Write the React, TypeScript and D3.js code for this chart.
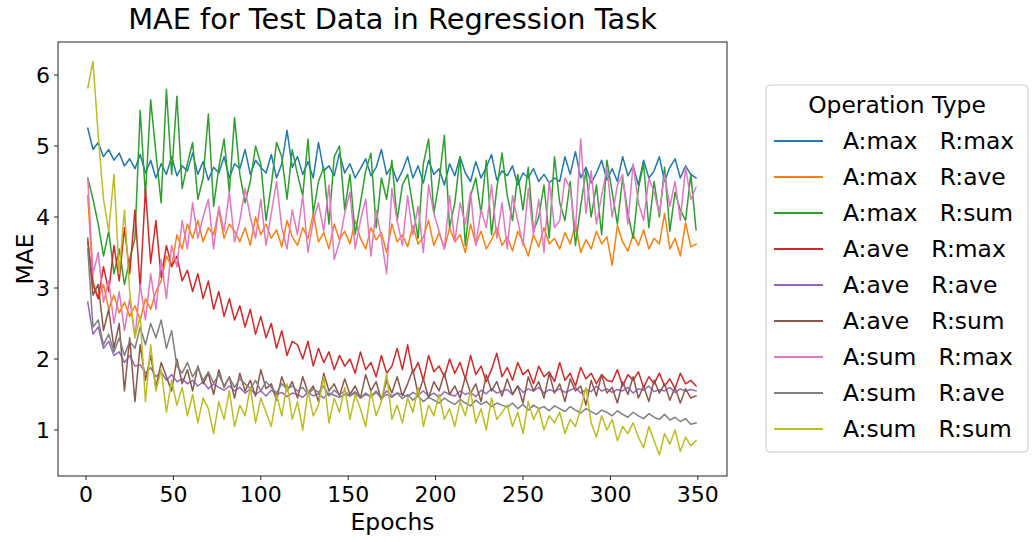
import * as d3 from "d3";

// sampled every 3 epochs: 1, 4, 7, ... 349
const EPOCHS = d3.range(1, 350, 3);

const X_TICKS = [0, 50, 100, 150, 200, 250, 300, 350];
const Y_TICKS = [1, 2, 3, 4, 5, 6];

const LABELS = [
  "A:max   R:max",
  "A:max   R:ave",
  "A:max   R:sum",
  "A:ave   R:max",
  "A:ave   R:ave",
  "A:ave   R:sum",
  "A:sum   R:max",
  "A:sum   R:ave",
  "A:sum   R:sum",
];

const MAX_MAX = [
  5.25, 4.95, 5.05, 4.85, 4.95, 4.8, 4.9, 4.72, 4.82, 4.68,
  4.88, 4.62, 4.8, 4.55, 4.75, 4.6, 4.85, 4.58, 4.72, 4.65,
  4.9, 4.6, 4.78, 4.52, 4.7, 4.62, 4.85, 4.55, 4.75, 4.68,
  4.95, 4.6, 4.8, 4.7, 4.62, 4.88, 4.55, 4.75, 5.22, 4.7,
  4.85, 4.6, 4.78, 4.55, 5.05, 4.65, 4.72, 4.58, 4.9, 4.62,
  4.75, 4.55, 4.68, 4.82, 4.58, 4.7, 4.95, 4.6, 4.72, 4.5,
  4.65, 4.85, 4.55, 4.72, 4.48, 4.8, 4.6, 4.68, 4.45, 4.75,
  4.58, 4.85, 4.62, 4.5, 4.78, 4.55, 4.7, 4.88, 4.52, 4.65,
  4.58, 4.72, 4.45, 4.62, 4.55, 4.68, 4.5, 4.6, 4.48, 4.55,
  4.5, 4.85, 4.6, 4.92, 4.55, 4.7, 4.48, 4.62, 4.8, 4.52,
  4.68, 4.5, 4.85, 4.58, 4.72, 4.45, 4.8, 4.55, 4.65, 4.85,
  4.5, 4.7, 4.82, 4.55, 4.72, 4.6, 4.55,
];

const MAX_AVE = [
  4.3, 3.1, 2.85, 3.05, 2.7, 2.9, 2.65, 2.8, 2.6, 2.75,
  2.55, 2.85, 2.7, 2.95, 3.1, 3.45, 3.3, 3.75, 3.55, 3.9,
  3.7, 3.95, 3.65, 3.85, 3.75, 4.1, 3.7, 3.9, 3.8, 3.65,
  3.85, 3.6, 4.0, 3.75, 3.9, 3.7, 3.82, 3.58, 3.95, 3.72,
  3.6, 3.85, 3.7, 4.05, 3.65, 3.78, 3.55, 3.9, 3.68, 3.8,
  3.62, 3.95, 3.7, 3.55, 3.85, 3.68, 3.78, 3.5, 3.9, 3.65,
  3.75, 3.58, 3.88, 3.62, 3.72, 3.95, 3.6, 3.78, 3.55, 3.85,
  3.65, 3.75, 3.5, 3.9, 3.62, 3.8, 3.55, 3.68, 3.85, 3.6,
  3.72, 3.52, 3.8, 3.65, 3.45, 3.75, 3.58, 3.85, 3.62, 3.7,
  3.55, 3.78, 3.62, 3.9, 3.5, 3.68, 3.55, 3.8, 3.62, 3.72,
  3.32, 3.88, 3.65, 3.52, 3.75, 3.6, 3.82, 3.55, 3.7, 3.62,
  4.05, 3.55, 3.7, 3.45, 3.92, 3.58, 3.62,
];

const MAX_SUM = [
  4.55, 4.25, 3.9, 3.45, 3.8, 3.2, 3.55, 3.05, 3.4, 3.7,
  5.5, 4.3, 5.65, 4.9, 4.2, 5.8, 4.6, 5.7, 4.4, 4.75,
  5.05, 4.25, 4.55, 5.45, 4.15, 4.7, 5.1, 4.35, 5.4, 4.6,
  4.2, 4.5, 5.0, 4.75, 3.95, 4.45, 5.05, 4.85, 4.25, 4.95,
  4.6, 4.3, 5.1, 4.05, 4.5, 4.7, 3.9, 4.85, 5.0, 4.1,
  4.6, 3.75, 4.2, 4.65, 4.9, 3.85, 4.55, 4.25, 4.8, 3.95,
  4.45, 4.6, 4.15, 3.7, 4.75, 5.1, 4.05, 4.5, 5.15, 3.85,
  4.2, 4.85, 3.6, 4.3, 4.55, 4.05, 4.8, 3.75, 4.4, 4.9,
  4.3, 3.95, 4.6, 4.1, 4.7, 3.8, 4.0, 4.45, 3.7, 4.85,
  4.2, 3.95, 4.5, 3.6, 4.15, 4.65, 4.0, 4.45, 3.75, 4.8,
  4.35, 3.9, 4.55, 4.05, 3.7, 4.4, 4.75, 3.85, 4.5, 4.0,
  4.7, 3.8, 4.35, 4.1, 3.95, 4.6, 3.82,
];

const AVE_MAX = [
  3.65, 3.05, 2.85, 3.3, 2.95, 3.6, 3.1, 3.85, 3.2, 4.1,
  3.0, 4.4, 3.35, 3.95, 3.15, 3.6, 3.3, 3.45, 3.1, 3.25,
  2.95, 3.2, 2.85, 3.1, 2.7, 2.95, 2.6, 2.85, 2.55, 2.75,
  2.45, 2.7, 2.35, 2.6, 2.3, 2.5, 2.15, 2.4, 2.05, 2.25,
  2.2, 2.0, 2.25, 1.9, 2.15, 1.95, 2.1, 1.85, 2.05, 1.9,
  2.0, 1.8, 2.1, 1.85, 1.95, 1.75, 2.05, 1.8, 1.9, 2.15,
  1.85, 2.2, 1.8, 1.95, 1.7, 2.05, 1.82, 1.9, 1.75, 2.0,
  1.8, 1.95, 1.72, 2.05, 1.78, 1.9, 1.68, 1.85, 2.08, 1.75,
  1.88, 1.7, 1.95, 1.78, 1.85, 1.65, 1.9, 1.75, 1.82, 1.68,
  1.95, 1.7, 1.8, 1.62, 1.88, 1.72, 1.8, 1.65, 1.78, 1.7,
  1.68, 1.85, 1.62, 1.78, 1.7, 1.82, 1.6, 1.75, 1.65, 1.8,
  1.62, 1.72, 1.58, 1.8, 1.65, 1.7, 1.62,
];

const AVE_AVE = [
  2.8, 2.35, 2.45, 2.15, 2.25, 2.05, 2.1, 1.95, 2.05, 1.9,
  1.92, 1.8, 1.88, 1.75, 1.82, 1.7, 1.78, 1.68, 1.72, 1.65,
  1.7, 1.62, 1.68, 1.58, 1.65, 1.6, 1.56, 1.62, 1.55, 1.6,
  1.52, 1.58, 1.5, 1.55, 1.48, 1.56, 1.5, 1.53, 1.47, 1.52,
  1.5, 1.46, 1.53, 1.48, 1.51, 1.45, 1.52, 1.49, 1.46, 1.5,
  1.48, 1.52, 1.45, 1.5, 1.47, 1.53, 1.46, 1.55, 1.48, 1.52,
  1.5, 1.47, 1.53, 1.49, 1.55, 1.48, 1.52, 1.46, 1.54, 1.5,
  1.48, 1.55, 1.5, 1.53, 1.47, 1.56, 1.51, 1.58, 1.52, 1.55,
  1.57, 1.5, 1.62, 1.53, 1.58, 1.55, 1.6, 1.52, 1.57, 1.54,
  1.58, 1.53, 1.56, 1.6, 1.52, 1.57, 1.54, 1.62, 1.55, 1.58,
  1.53, 1.57, 1.55, 1.6, 1.52, 1.58, 1.56, 1.62, 1.54, 1.57,
  1.55, 1.6, 1.53, 1.58, 1.55, 1.57, 1.55,
];

const AVE_SUM = [
  3.7, 2.9, 3.05, 2.4, 2.7, 2.15, 2.5, 1.55, 2.3, 1.4,
  2.2, 1.7, 2.05, 1.6, 1.95, 1.75, 1.55, 2.0, 1.65, 1.85,
  1.55, 1.9, 1.65, 1.8, 1.5, 1.85, 1.6, 1.75, 1.45, 1.8,
  1.55, 1.7, 1.48, 1.85, 1.58, 1.65, 1.42, 1.75, 1.55, 1.68,
  1.45, 1.75, 1.52, 1.62, 1.4, 1.8, 1.55, 1.65, 1.48, 1.72,
  1.5, 1.62, 1.45, 1.78, 1.55, 1.68, 1.42, 1.7, 1.52, 1.75,
  1.48, 1.65, 1.85, 1.5, 1.72, 1.45, 1.68, 1.55, 1.8, 1.5,
  1.62, 1.45, 1.75, 1.52, 1.65, 1.4, 1.78, 1.55, 1.68, 1.48,
  1.72, 1.5, 1.62, 1.38, 1.75, 1.55, 1.68, 1.45, 1.8, 1.52,
  1.65, 1.4, 1.72, 1.55, 1.62, 1.35, 1.7, 1.48, 1.78, 1.52,
  1.6, 1.38, 1.68, 1.5, 1.75, 1.45, 1.62, 1.4, 1.7, 1.52,
  1.65, 1.42, 1.6, 1.38, 1.58, 1.45, 1.48,
];

const SUM_MAX = [
  4.55, 3.2, 3.5, 2.8, 3.1, 2.5, 2.95, 2.4, 2.85, 2.3,
  3.05, 2.55, 3.2, 2.7, 3.4, 2.85, 3.6, 3.3, 3.95, 3.55,
  4.2, 3.7, 4.0, 4.25, 3.55, 4.15, 3.8, 4.35, 3.65, 3.95,
  4.4, 4.0, 3.7, 4.25, 3.6, 4.05, 4.5, 3.85, 3.55, 4.1,
  3.75, 4.3, 3.5, 3.95, 4.2, 3.8, 4.45, 3.4, 3.65, 4.05,
  4.35, 3.55, 3.95, 4.25, 3.45, 4.1, 3.7, 3.2, 4.4, 3.95,
  3.6, 4.3, 3.75, 4.15, 3.5, 4.45, 4.05, 3.8, 3.55, 4.3,
  3.65, 4.2, 3.9, 4.35, 3.6, 4.1, 3.85, 4.45, 3.7, 4.2,
  3.55, 4.3, 3.95, 3.6, 4.4, 3.75, 4.25, 3.5, 4.5, 3.85,
  3.95, 4.55, 4.4, 3.8, 5.1, 4.05, 4.65, 3.9, 4.3, 4.7,
  4.0, 4.45, 4.6, 3.9, 4.75, 4.2, 3.95, 4.55, 4.35, 4.05,
  4.6, 4.15, 4.5, 3.95, 4.7, 4.25, 4.42,
];

const SUM_AVE = [
  3.55, 2.45, 2.55, 2.2, 2.35, 2.1, 2.3, 2.05, 2.25, 2.15,
  2.45, 2.2, 2.5, 2.3, 2.55, 2.15, 2.4, 1.9, 1.8, 1.95,
  1.75, 1.88, 1.7, 1.82, 1.66, 1.78, 1.62, 1.74, 1.6, 1.72,
  1.65, 1.58, 1.7, 1.55, 1.68, 1.6, 1.52, 1.65, 1.58, 1.62,
  1.55, 1.6, 1.5, 1.58, 1.53, 1.62, 1.48, 1.56, 1.5, 1.55,
  1.48, 1.54, 1.45, 1.52, 1.47, 1.55, 1.44, 1.5, 1.46, 1.52,
  1.44, 1.5, 1.42, 1.48, 1.4, 1.46, 1.42, 1.38, 1.45, 1.4,
  1.36, 1.43, 1.38, 1.34, 1.42, 1.36, 1.4, 1.33, 1.38, 1.35,
  1.32, 1.38, 1.3, 1.36, 1.28, 1.35, 1.3, 1.33, 1.27, 1.34,
  1.3, 1.26, 1.33, 1.28, 1.24, 1.3, 1.26, 1.22, 1.28, 1.25,
  1.2, 1.27, 1.22, 1.18, 1.25, 1.2, 1.16, 1.23, 1.18, 1.15,
  1.22, 1.14, 1.18, 1.12, 1.16, 1.08, 1.1,
];

const SUM_SUM = [
  5.82, 6.19, 5.15, 4.25, 3.8, 4.6, 3.2, 4.1, 2.95, 2.3,
  2.6, 1.4, 2.2, 1.55, 1.85, 1.25, 1.7, 1.35, 1.6, 1.2,
  1.5, 1.1, 1.45, 1.3, 0.95, 1.4, 1.15, 1.55, 1.05, 1.35,
  1.2, 1.6, 1.1, 1.45, 1.25, 1.05, 1.5, 1.2, 1.65, 1.15,
  1.4, 1.0, 1.55, 1.2, 1.35, 1.75, 1.1, 1.45, 1.25, 1.6,
  1.15, 1.5, 1.3, 1.05, 1.55, 1.2, 1.4, 1.8, 1.15, 1.35,
  1.1, 1.45, 1.25, 1.6, 1.05, 1.35, 1.2, 1.5, 1.15, 1.3,
  1.05, 1.4, 1.2, 1.55, 1.1, 1.3, 1.0, 1.45, 1.15, 1.25,
  1.35, 1.05, 1.25, 0.95, 1.4, 1.15, 1.3, 1.0, 1.2, 1.1,
  1.25, 0.95, 1.15, 1.05, 1.3, 1.6, 1.1, 0.9, 1.2, 1.0,
  1.15, 0.85, 1.05, 0.95, 1.1, 0.9, 0.75, 1.05, 0.85, 0.65,
  0.95, 0.8, 1.0, 0.7, 0.9, 0.78, 0.85,
];

const SERIES = [MAX_MAX, MAX_AVE, MAX_SUM, AVE_MAX, AVE_AVE, AVE_SUM, SUM_MAX, SUM_AVE, SUM_SUM];
const COLORS = d3.schemeCategory10;

const FONT = "'DejaVu Sans', sans-serif";

export default function App() {
  const width = 1035;
  const height = 542;
  // plot frame
  const frame = { left: 58, right: 727, top: 42, bottom: 476 };

  const x = d3.scaleLinear().domain([0, 350]).range([86, 697.8]);
  const y = d3.scaleLinear().domain([1, 6]).range([430, 75]);

  const line = d3
    .line<number>()
    .x((_d, i) => x(EPOCHS[i]))
    .y((d) => y(d));

  // legend placement
  const legend = { x: 766, y: 85, w: 262, h: 367 };
  const rowY = (i: number) => 141 + i * 36;

  return (
    <svg
      width={width}
      height={height}
      style={{ position: "absolute", left: 0, top: 0, display: "block", background: "#fff" }}
      fontFamily={FONT}
    >
      {/* series */}
      <g fill="none" strokeWidth={1.5} strokeLinejoin="round" strokeLinecap="square">
        {SERIES.map((s, i) => (
          <path key={LABELS[i]} d={line(s) ?? ""} stroke={COLORS[i]} />
        ))}
      </g>

      {/* frame */}
      <rect
        x={frame.left}
        y={frame.top}
        width={frame.right - frame.left}
        height={frame.bottom - frame.top}
        fill="none"
        stroke="#222"
        strokeWidth={1}
      />

      {/* x axis */}
      {X_TICKS.map((t) => (
        <g key={`x${t}`} transform={`translate(${x(t)},${frame.bottom})`}>
          <line y2={4} stroke="#222" />
          <text y={26} textAnchor="middle" fontSize={22} fill="#000">
            {t}
          </text>
        </g>
      ))}
      <text x={(frame.left + frame.right) / 2} y={530} textAnchor="middle" fontSize={23.4}>
        Epochs
      </text>

      {/* y axis */}
      {Y_TICKS.map((t) => (
        <g key={`y${t}`} transform={`translate(${frame.left},${y(t)})`}>
          <line x2={-4} stroke="#222" />
          <text x={-8} dy="0.36em" textAnchor="end" fontSize={22} fill="#000">
            {t}
          </text>
        </g>
      ))}
      <text
        transform={`translate(33,${(frame.top + frame.bottom) / 2}) rotate(-90)`}
        textAnchor="middle"
        fontSize={23.4}
      >
        MAE
      </text>

      {/* title */}
      <text x={(frame.left + frame.right) / 2} y={29} textAnchor="middle" fontSize={28.8}>
        MAE for Test Data in Regression Task
      </text>

      {/* legend */}
      <rect
        x={legend.x}
        y={legend.y}
        width={legend.w}
        height={legend.h}
        rx={4}
        fill="#fff"
        fillOpacity={0.8}
        stroke="#cccccc"
      />
      <text x={legend.x + legend.w / 2} y={113} textAnchor="middle" fontSize={23.4}>
        Operation Type
      </text>
      {LABELS.map((label, i) => (
        <g key={label}>
          <line x1={774} x2={823} y1={rowY(i)} y2={rowY(i)} stroke={COLORS[i]} strokeWidth={2} />
          <text x={843} y={rowY(i) + 8} fontSize={23.4} style={{ whiteSpace: "pre" }}>
            {label}
          </text>
        </g>
      ))}
    </svg>
  );
}
